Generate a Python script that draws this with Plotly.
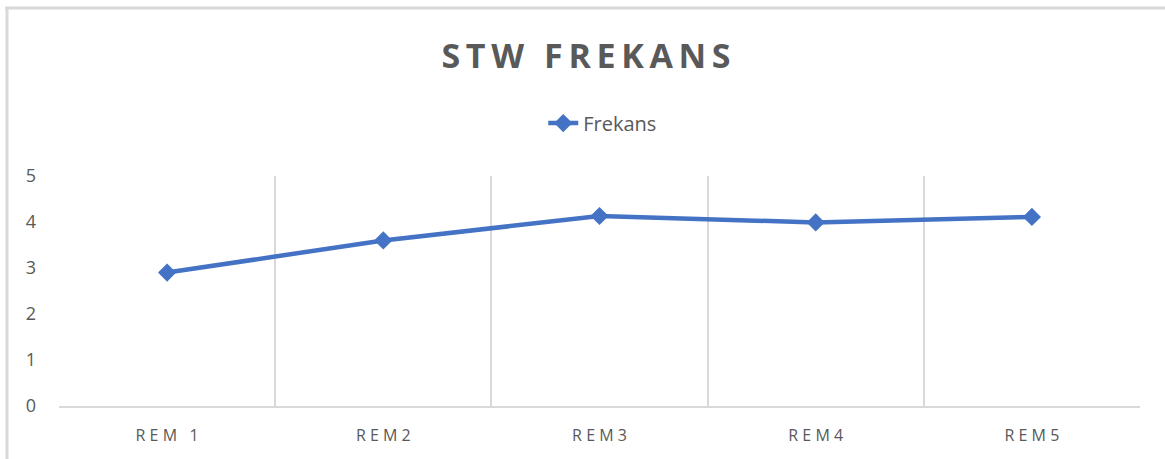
import plotly.graph_objects as go

categories = ["REM 1", "REM2", "REM3", "REM4", "REM5"]
frekans = [2.9, 3.6, 4.13, 3.99, 4.11]
y_ticks = [0, 1, 2, 3, 4, 5]


def spaced(s, sep=" "):
    # fake letter spacing, plotly has no letter-spacing option
    return sep.join(s)


tick_text = [spaced(c) for c in categories]

fig = go.Figure()
fig.add_trace(go.Scatter(
    x=categories, y=frekans, mode="lines+markers", name="Frekans",
    line=dict(color="#4472C4", width=4.5),
    marker=dict(symbol="diamond", size=14, color="#4472C4"),
))

fig.update_layout(
    width=1165, height=459,
    margin=dict(l=59, r=25, t=176, b=53),
    paper_bgcolor="white", plot_bgcolor="white",
    font=dict(family="Open Sans", color="#595959"),
    title=dict(text="<b>" + spaced("STW FREKANS", "\u2009") + "</b>",
               x=0.503, xanchor="center", y=0.878, yanchor="middle",
               font=dict(size=34, color="#595959")),
    showlegend=True,
    legend=dict(orientation="h", x=0.503, xanchor="center", y=1.23, yanchor="middle",
                font=dict(size=20, color="#595959")),
    xaxis=dict(
        type="category", range=[-0.5, 4.5],
        tickmode="array", tickvals=categories, ticktext=tick_text,
        tickson="boundaries", showgrid=True, gridcolor="#D9D9D9", gridwidth=2,
        showline=True, linecolor="#D9D9D9", linewidth=2,
        ticks="", tickfont=dict(size=16, color="#595959"), ticklabelstandoff=14,
        zeroline=False,
    ),
    yaxis=dict(
        range=[0, 5], tickvals=y_ticks, showgrid=False, zeroline=False,
        showline=False, ticks="", tickfont=dict(size=18, color="#595959"),
        ticklabelstandoff=22,
    ),
    shapes=[
        dict(type="line", xref="paper", yref="paper", x0=-0.05, x1=1.1, y0=1.73, y1=1.73,
             line=dict(color="#D9D9D9", width=3)),
        dict(type="line", xref="paper", yref="paper", x0=-0.0481, x1=-0.0481, y0=-0.3, y1=1.73,
             line=dict(color="#D9D9D9", width=3)),
    ],
)

fig.write_html("out.html", config={"displayModeBar": False},
               post_script="document.body.style.margin='0';")
